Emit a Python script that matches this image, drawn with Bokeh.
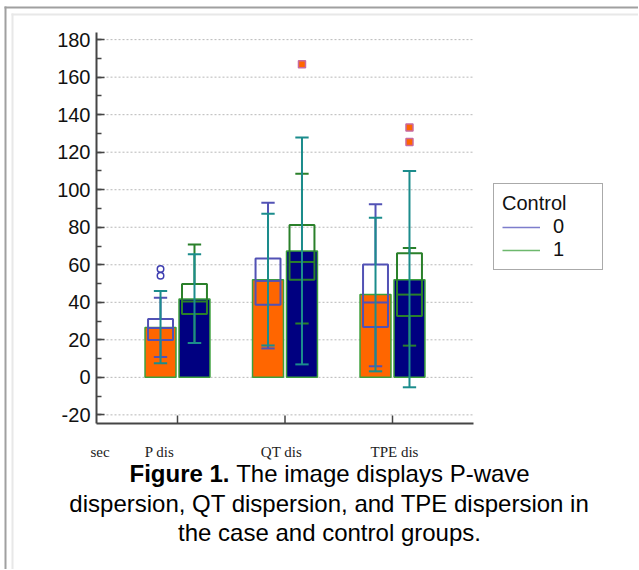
import numpy as np
from bokeh.plotting import figure
from bokeh.models import (Range1d, SingleIntervalTicker, FixedTicker, Label,
                          Legend, LegendItem, BoxAnnotation)
from bokeh.embed import file_html
from bokeh.resources import INLINE

# ---------------- data ----------------
categories = ["P dis", "QT dis", "TPE dis"]
unit_label = "sec"

# bar heights (means): group 0 (orange) and group 1 (navy)
mean_0 = [26.6, 52.0, 44.1]
mean_1 = [41.7, 67.4, 52.0]

# teal error bars (lower / upper)
err_lo_0 = [7.5, 17.0, 3.2]
err_hi_0 = [46.0, 87.2, 85.1]
err_lo_1 = [18.3, 6.9, -5.3]
err_hi_1 = [65.6, 127.9, 110.0]

# box plots
q1_0 = [19.9, 38.7, 26.8]
med_0 = [26.3, 51.4, 39.9]
q3_0 = [31.1, 63.3, 60.1]
wlo_0 = [10.8, 15.4, 5.9]
whi_0 = [42.4, 93.1, 92.2]

q1_1 = [33.7, 52.0, 32.7]
med_1 = [40.4, 61.5, 44.1]
q3_1 = [49.7, 81.2, 66.2]
wlo_1 = [18.3, 28.7, 16.9]
whi_1 = [70.8, 108.5, 69.0]

# outliers
out0_cat = ["P dis", "P dis"]
out0_val = [57.8, 54.2]
out1_cat = ["QT dis", "TPE dis", "TPE dis"]
out1_val = [166.9, 133.2, 125.4]

legend_title = "Control"
legend_labels = ["0", "1"]
caption_bold = "Figure 1."
caption_lines = ["The image displays P-wave",
                 "dispersion, QT dispersion, and TPE dispersion in",
                 "the case and control groups."]

y_min, y_max, y_step = -20, 180, 20

# ---------------- layout (page pixels -> data) ----------------
W, H = 638, 569
AX_L, AX_R, AX_T, AX_B = 96, 473, 32, 423     # chart area on the page
X_A, X_B = 0.2465, 3.7535                      # x values at AX_L / AX_R
Y_A, Y_B = -24.6, 183.8                        # y values at AX_B / AX_T
PXX = (AX_R - AX_L) / (X_B - X_A)
PXY = (AX_B - AX_T) / (Y_B - Y_A)


def xd(px):
    return X_A + (px - AX_L) / PXX


def yd(py):
    return Y_B - (py - AX_T) / PXY


OFF = 0.158      # bar offset from category centre
BAR_W = 0.288
BOX_HW = 0.116
CAP_HW = 0.062
SEC_X = 0.28
LABEL_SHIFT_PX = [-18.0, -3.5, 2.0]   # tick-label placement relative to the tick

ORANGE = "#FF6600"
NAVY = "#000080"
BAR_EDGE = "#3CA03C"
PURPLE = "#5252B5"
GREEN = "#2A802A"
TEAL = "#1B8C8C"
AXIS = "#454545"

xc = np.arange(1, len(categories) + 1, dtype=float)
x0 = xc - OFF
x1 = xc + OFF

p = figure(width=W, height=H, output_backend="svg", toolbar_location=None,
           x_range=Range1d(xd(0), xd(W)), y_range=Range1d(yd(H), yd(0)),
           min_border=0, min_border_left=0, min_border_right=0,
           min_border_top=0, min_border_bottom=0)
p.outline_line_color = None
p.background_fill_color = "white"
p.border_fill_color = "white"
p.grid.visible = False

# page frame lines
for l, r, t, b, c in [(4, W, 6, 8, "#A0A0A0"), (4, 6, 6, H, "#A0A0A0"),
                      (11, W, 13, 15, "#E8E8E8"), (11, 13, 13, H, "#E8E8E8")]:
    p.add_layout(BoxAnnotation(left=xd(l), right=xd(r), top=yd(t), bottom=yd(b),
                               fill_color=c, fill_alpha=1, line_color=None,
                               level="underlay"))

# horizontal dotted grid lines (chart area only)
gy = np.arange(y_min, y_max + 1, y_step, dtype=float)
p.segment(x0=[xd(AX_L + 2)] * len(gy), x1=[xd(AX_R - 1)] * len(gy), y0=gy, y1=gy,
          line_color="#b8b8b8", line_width=1, line_dash="2 2")

# bars
p.vbar(x=x0, top=mean_0, bottom=0, width=BAR_W, fill_color=ORANGE,
       line_color=BAR_EDGE, line_width=1.5)
p.vbar(x=x1, top=mean_1, bottom=0, width=BAR_W, fill_color=NAVY,
       line_color=BAR_EDGE, line_width=1.5)


def draw_box(xx, q1, med, q3, wlo, whi, color):
    p.quad(left=xx - BOX_HW, right=xx + BOX_HW, bottom=q1, top=q3,
           fill_color=None, line_color=color, line_width=2)
    p.segment(x0=xx - BOX_HW, x1=xx + BOX_HW, y0=med, y1=med,
              line_color=color, line_width=2)
    p.segment(x0=xx, x1=xx, y0=q3, y1=whi, line_color=color, line_width=2)
    p.segment(x0=xx, x1=xx, y0=q1, y1=wlo, line_color=color, line_width=2)
    p.segment(x0=xx - CAP_HW, x1=xx + CAP_HW, y0=whi, y1=whi,
              line_color=color, line_width=2)
    p.segment(x0=xx - CAP_HW, x1=xx + CAP_HW, y0=wlo, y1=wlo,
              line_color=color, line_width=2)


draw_box(x0, q1_0, med_0, q3_0, wlo_0, whi_0, PURPLE)
draw_box(x1, q1_1, med_1, q3_1, wlo_1, whi_1, GREEN)


def draw_err(xx, lo, hi):
    p.segment(x0=xx, x1=xx, y0=lo, y1=hi, line_color=TEAL, line_width=2)
    p.segment(x0=xx - CAP_HW, x1=xx + CAP_HW, y0=lo, y1=lo,
              line_color=TEAL, line_width=2)
    p.segment(x0=xx - CAP_HW, x1=xx + CAP_HW, y0=hi, y1=hi,
              line_color=TEAL, line_width=2)


draw_err(x0, err_lo_0, err_hi_0)
draw_err(x1, err_lo_1, err_hi_1)

# outliers
ox0 = np.array([categories.index(c) + 1 for c in out0_cat], dtype=float) - OFF
ox1 = np.array([categories.index(c) + 1 for c in out1_cat], dtype=float) + OFF
p.scatter(x=ox0, y=out0_val, marker="circle", size=6.5, fill_color=None,
          line_color="#3E3EB0", line_width=1.5)
p.scatter(x=ox1, y=out1_val, marker="square", size=7, fill_color=ORANGE,
          line_color="#C86AA0", line_width=1.5)

# category tick marks (pointing up into the plot)
p.segment(x0=xc, x1=xc, y0=[Y_A] * len(xc), y1=[Y_A + 8 / PXY] * len(xc),
          line_color=AXIS, line_width=1.5)

# axes (drawn at fixed positions inside the canvas)
yax = p.yaxis[0]
yax.fixed_location = X_A
yax.bounds = (Y_A, Y_B)
yax.ticker = SingleIntervalTicker(interval=y_step, num_minor_ticks=2)
yax.axis_line_color = AXIS
yax.axis_line_width = 2
yax.major_tick_in = 8
yax.major_tick_out = 0
yax.minor_tick_in = 5
yax.minor_tick_out = 0
yax.major_tick_line_color = AXIS
yax.major_tick_line_width = 1.5
yax.minor_tick_line_color = AXIS
yax.minor_tick_line_width = 1.5
yax.major_label_text_font = "Liberation Sans"
yax.major_label_text_font_size = "20px"
yax.major_label_text_color = "#111111"
yax.major_label_standoff = 6
yax.major_label_overrides = {-20: "-20"}

label_ticks = [round(float(c) + s / PXX, 4) for c, s in zip(xc, LABEL_SHIFT_PX)]
xax = p.xaxis[0]
xax.fixed_location = Y_A
xax.bounds = (X_A, X_B)
xax.ticker = FixedTicker(ticks=[SEC_X] + label_ticks)
overrides = {SEC_X: unit_label}
overrides.update({t: c for t, c in zip(label_ticks, categories)})
xax.major_label_overrides = overrides
xax.axis_line_color = AXIS
xax.axis_line_width = 2
xax.major_tick_in = 0
xax.major_tick_out = 0
xax.major_tick_line_color = None
xax.minor_tick_line_color = None
xax.major_label_text_font = "Liberation Serif"
xax.major_label_text_font_size = "15px"
xax.major_label_text_color = "#222222"
xax.major_label_standoff = 20

# legend
r0 = p.line(x=np.array([np.nan]), y=np.array([np.nan]),
            line_color="#7D7DCC", line_width=1.5)
r1 = p.line(x=np.array([np.nan]), y=np.array([np.nan]),
            line_color="#6DB86D", line_width=1.5)
legend = Legend(items=[LegendItem(label=legend_labels[0], renderers=[r0]),
                       LegendItem(label=legend_labels[1], renderers=[r1])],
                title=legend_title, location=(493, H - 270),
                title_text_font="Liberation Sans", title_text_font_size="20px",
                title_text_font_style="normal", title_text_color="#111111",
                title_standoff=0,
                label_text_font="Liberation Sans", label_text_font_size="20px",
                label_text_color="#111111",
                glyph_width=38, glyph_height=20, label_standoff=13,
                label_width=41, padding=8, spacing=0, margin=0,
                border_line_color="#555555", border_line_width=1.5,
                background_fill_color="white", background_fill_alpha=1.0)
p.add_layout(legend, "center")

# caption
CAP_F = "Liberation Sans"
CAP_S = "24px"
CX = 329
p.add_layout(Label(x=xd(229), y=yd(473), text=caption_bold, text_align="right",
                   text_baseline="middle", text_font=CAP_F, text_font_size=CAP_S,
                   text_font_style="bold", text_color="#000000"))
p.add_layout(Label(x=xd(235.7), y=yd(473), text=caption_lines[0],
                   text_align="left", text_baseline="middle", text_font=CAP_F,
                   text_font_size=CAP_S, text_color="#000000"))
p.add_layout(Label(x=xd(CX), y=yd(503), text=caption_lines[1],
                   text_align="center", text_baseline="middle", text_font=CAP_F,
                   text_font_size=CAP_S, text_color="#000000"))
p.add_layout(Label(x=xd(CX), y=yd(532), text=caption_lines[2],
                   text_align="center", text_baseline="middle", text_font=CAP_F,
                   text_font_size=CAP_S, text_color="#000000"))

open("out.html", "w").write(file_html(p, INLINE))
